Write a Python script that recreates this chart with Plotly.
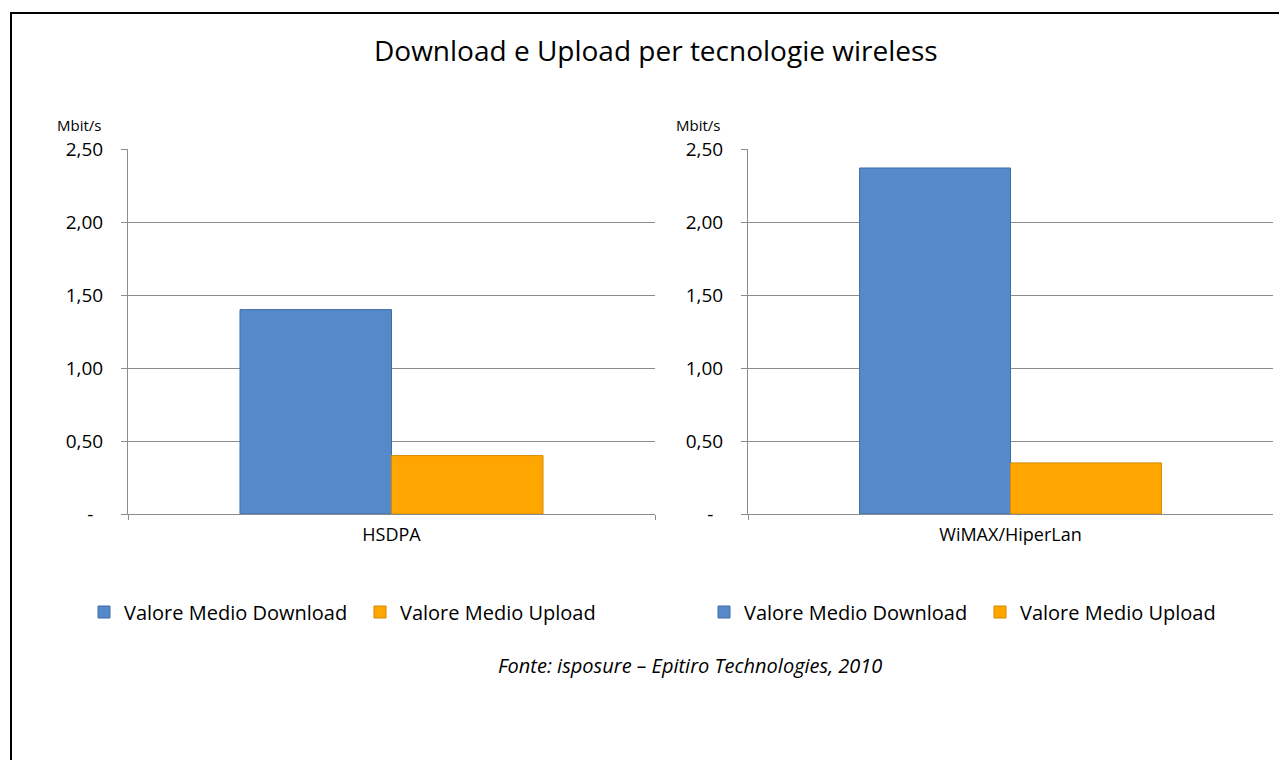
import plotly.graph_objects as go

W, H = 1287, 760
OFF = 8  # page body margin

title = "Download e Upload per tecnologie wireless"
source = "Fonte: isposure \u2013 Epitiro Technologies, 2010"
unit = "Mbit/s"

panels = ["HSDPA", "WiMAX/HiperLan"]
series_names = ["Valore Medio Download", "Valore Medio Upload"]
download = [1.40, 2.37]
upload = [0.40, 0.35]

tick_vals = [0, 0.5, 1.0, 1.5, 2.0, 2.5]
tick_text = ["-\u00a0\u00a0", "0,50", "1,00", "1,50", "2,00", "2,50"]

colors = ["#5589C9", "#FFA600"]
line_colors = ["#3F6FA8", "#D48A00"]

FONT = "Open Sans"

def px(x):
    return (x - OFF) / W

def py(y):
    return 1 - (y - OFF) / H

fig = go.Figure()

legends = ["legend", "legend2"]
axes = [("x", "y"), ("x2", "y2")]
for i, panel in enumerate(panels):
    xa, ya = axes[i]
    for s, (name, vals) in enumerate(zip(series_names, [download, upload])):
        fig.add_trace(go.Bar(
            x=[panel], y=[vals[i]], name=name,
            xaxis=xa, yaxis=ya, legend=legends[i],
            marker=dict(color=colors[s], line=dict(color=line_colors[s], width=1)),
        ))

axis_color = "#8C8C8C"
yaxis_common = dict(
    range=[0, 2.5], tickvals=tick_vals, ticktext=tick_text,
    showgrid=True, gridcolor=axis_color, gridwidth=1,
    showline=True, linecolor=axis_color, linewidth=1,
    ticks="outside", ticklen=6, tickcolor=axis_color, ticklabelstandoff=14,
    tickfont=dict(family=FONT, size=19, color="#000000"),
    zeroline=False, automargin=False, fixedrange=True,
)
xaxis_common = dict(
    showline=True, linecolor=axis_color, linewidth=1,
    ticks="outside", ticklen=5, tickcolor=axis_color, tickson="boundaries",
    ticklabelstandoff=4,
    tickfont=dict(family=FONT, size=18, color="#000000"),
    showgrid=False, automargin=False, fixedrange=True,
)

legend_common = dict(orientation="h", xanchor="left", yanchor="middle",
                     entrywidth=231, bgcolor="rgba(0,0,0,0)",
                     font=dict(family=FONT, size=20, color="#000000"),
                     itemclick=False, itemdoubleclick=False)

fig.update_layout(
    width=W, height=H,
    template="none",
    paper_bgcolor="white", plot_bgcolor="white",
    margin=dict(l=0, r=0, t=0, b=0),
    barmode="group", bargap=0.425, bargroupgap=0,
    font=dict(family=FONT, color="#000000"),
    xaxis=dict(domain=[px(128), px(655)], anchor="y", **xaxis_common),
    yaxis=dict(domain=[py(514), py(149)], anchor="x", **yaxis_common),
    xaxis2=dict(domain=[px(748), px(1273)], anchor="y2", **xaxis_common),
    yaxis2=dict(domain=[py(514), py(149)], anchor="x2", **yaxis_common),
    legend=dict(x=px(84), y=py(612), **legend_common),
    legend2=dict(x=px(704), y=py(612), **legend_common),
    showlegend=True,
)

fig.add_annotation(text=title, x=px(656), y=py(50), xref="paper", yref="paper",
                   xanchor="center", yanchor="middle", showarrow=False,
                   font=dict(family=FONT, size=28, color="#000000"))
fig.add_annotation(text="<i>" + source + "</i>", x=px(690), y=py(665),
                   xref="paper", yref="paper", xanchor="center", yanchor="middle",
                   showarrow=False, font=dict(family=FONT, size=20, color="#000000"))
for xc in [79, 698]:
    fig.add_annotation(text=unit, x=px(xc), y=py(125), xref="paper", yref="paper",
                       xanchor="center", yanchor="middle", showarrow=False,
                       font=dict(family=FONT, size=15, color="#000000"))

fig.add_shape(type="rect", xref="paper", yref="paper",
              x0=px(11), y0=py(13), x1=px(W + 20), y1=py(H + 20),
              line=dict(color="#000000", width=2), fillcolor="rgba(0,0,0,0)", layer="above")

fig.write_html("out.html")
